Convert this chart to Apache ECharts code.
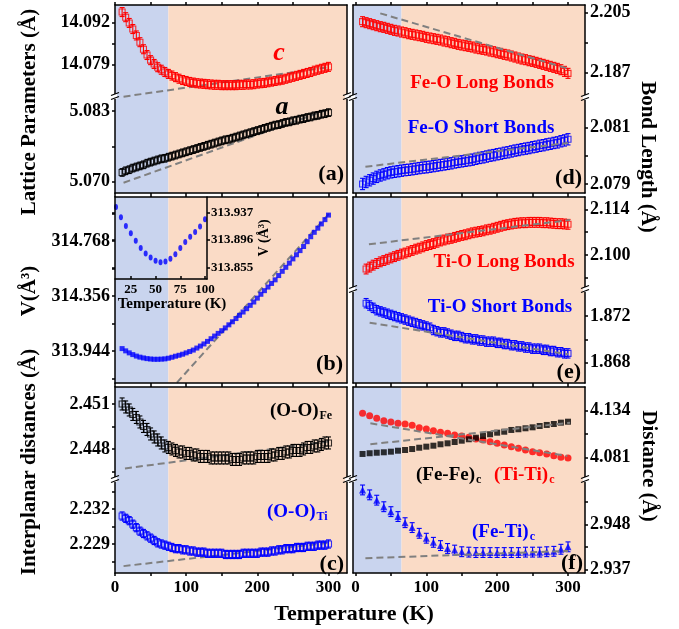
<!DOCTYPE html>
<html><head><meta charset="utf-8">
<script src="https://cdn.jsdelivr.net/npm/echarts@6/dist/echarts.min.js"></script>
<style>html,body{margin:0;padding:0;background:#fff}#c{width:679px;height:629px}</style>
</head><body><div id="c"></div><script>
// ---------------- DATA ----------------
const T5 = [10,15,20,25,30,35,40,45,50,55,60,65,70,75,80,85,90,95,100,105,110,115,120,125,130,135,140,145,150,155,160,165,170,175,180,185,190,195,200,205,210,215,220,225,230,235,240,245,250,255,260,265,270,275,280,285,290,295,300];
const TE = [15,20,25,30,35,40,45,50,55,60,65,70,75,80,85,90,95,100,105,110,115,120,125,130,135,140,145,150,155,160,165,170,175,180,185,190,195,200,205,210,215,220,225,230,235,240,245,250,255,260,265,270,275,280,285,290,295,300];
const T10 = [10,20,30,40,50,60,70,80,90,100,110,120,130,140,150,160,170,180,190,200,210,220,230,240,250,260,270,280,290,300];
const T_INSET = [10,15,20,25,30,35,40,45,50,55,60,65,70,75,80,85,90,95,100];

const C_LAT = [14.0953,14.0937,14.0919,14.0900,14.0880,14.0859,14.0837,14.0819,14.0803,14.0791,
 14.0781,14.0773,14.0766,14.0760,14.0755,14.0750,14.0745,14.0741,14.0738,14.0735,
 14.0733,14.0731,14.0730,14.0729,14.0728,14.0727,14.0726,14.0726,14.0725,14.0725,
 14.0725,14.0725,14.0725,14.0726,14.0726,14.0727,14.0727,14.0728,14.0730,14.0731,
 14.0732,14.0734,14.0736,14.0738,14.0740,14.0742,14.0745,14.0748,14.0751,14.0754,
 14.0757,14.0760,14.0763,14.0766,14.0770,14.0773,14.0776,14.0779,14.0782];
const A_LAT = [5.0717,5.0720,5.0722,5.0725,5.0727,5.0729,5.0731,5.0734,5.0736,5.0738,
 5.0740,5.0742,5.0743,5.0745,5.0747,5.0749,5.0751,5.0753,5.0755,5.0757,
 5.0759,5.0761,5.0763,5.0765,5.0767,5.0769,5.0771,5.0773,5.0775,5.0777,
 5.0778,5.0780,5.0782,5.0784,5.0786,5.0788,5.0790,5.0792,5.0794,5.0796,
 5.0798,5.0800,5.0802,5.0804,5.0805,5.0807,5.0809,5.0810,5.0812,5.0813,
 5.0815,5.0816,5.0818,5.0819,5.0821,5.0822,5.0824,5.0825,5.0827];
const VOL = [313.962,313.945,313.930,313.917,313.906,313.898,313.892,313.887,313.884,313.882,
 313.882,313.883,313.885,313.890,313.897,313.905,313.912,313.920,313.930,313.940,
 313.951,313.966,313.981,313.997,314.016,314.036,314.056,314.076,314.096,314.117,
 314.140,314.163,314.187,314.211,314.236,314.261,314.286,314.311,314.340,314.369,
 314.396,314.423,314.450,314.477,314.509,314.541,314.571,314.602,314.634,314.665,
 314.696,314.727,314.763,314.800,314.833,314.864,314.896,314.928,314.962];
const V_INSET = [313.945,313.930,313.917,313.906,313.895,313.884,313.876,313.870,313.865,313.863,313.864,313.868,313.875,313.884,313.893,313.901,313.908,313.916,313.927];
const OO_FE = [2.4510,2.4508,2.4506,2.4503,2.4501,2.4498,2.4495,2.4493,2.4490,2.4488,
 2.4486,2.4484,2.4482,2.4481,2.4480,2.4479,2.4478,2.4478,2.4477,2.4477,
 2.4476,2.4476,2.4475,2.4475,2.4475,2.4474,2.4474,2.4474,2.4474,2.4474,
 2.4474,2.4473,2.4473,2.4473,2.4474,2.4474,2.4474,2.4474,2.4475,2.4475,
 2.4475,2.4475,2.4476,2.4476,2.4477,2.4477,2.4478,2.4478,2.4479,2.4479,
 2.4479,2.4480,2.4481,2.4481,2.4482,2.4482,2.4483,2.4484,2.4484];
const OO_TI = [2.2314,2.2312,2.2310,2.2307,2.2304,2.2301,2.2299,2.2297,2.2295,2.2293,
 2.2291,2.2290,2.2289,2.2288,2.2287,2.2286,2.2286,2.2285,2.2285,2.2284,
 2.2284,2.2283,2.2283,2.2283,2.2282,2.2282,2.2282,2.2282,2.2282,2.2281,
 2.2281,2.2281,2.2281,2.2281,2.2282,2.2282,2.2282,2.2282,2.2282,2.2283,
 2.2283,2.2283,2.2284,2.2284,2.2285,2.2285,2.2286,2.2286,2.2286,2.2287,
 2.2287,2.2287,2.2288,2.2288,2.2288,2.2289,2.2289,2.2289,2.2290];
const FEO_LONG = [2.2023,2.2020,2.2017,2.2014,2.2011,2.2008,2.2006,2.2003,2.2000,2.1997,
 2.1995,2.1992,2.1990,2.1987,2.1985,2.1983,2.1981,2.1979,2.1976,2.1974,
 2.1972,2.1970,2.1968,2.1965,2.1963,2.1960,2.1958,2.1955,2.1953,2.1951,
 2.1949,2.1947,2.1944,2.1942,2.1940,2.1938,2.1935,2.1933,2.1930,2.1928,
 2.1925,2.1923,2.1920,2.1917,2.1914,2.1911,2.1909,2.1906,2.1904,2.1901,
 2.1898,2.1895,2.1892,2.1889,2.1886,2.1883,2.1879,2.1874,2.1868];
const FEO_SHORT = [2.07901,2.07908,2.07914,2.07920,2.07926,2.07931,2.07935,2.07939,2.07942,2.07944,
 2.07946,2.07948,2.07950,2.07951,2.07953,2.07955,2.07957,2.07959,2.07960,2.07962,
 2.07964,2.07966,2.07968,2.07970,2.07972,2.07974,2.07977,2.07979,2.07981,2.07983,
 2.07985,2.07987,2.07990,2.07993,2.07995,2.07998,2.08001,2.08003,2.08006,2.08008,
 2.08011,2.08013,2.08016,2.08019,2.08021,2.08024,2.08026,2.08028,2.08031,2.08033,
 2.08036,2.08038,2.08041,2.08043,2.08046,2.08048,2.08052,2.08055,2.08059];
const TIO_LONG = [2.0957,2.0963,2.0969,2.0974,2.0979,2.0983,2.0987,2.0991,2.0995,2.0999,
 2.1003,2.1006,2.1010,2.1014,2.1018,2.1021,2.1025,2.1029,2.1032,2.1035,
 2.1039,2.1043,2.1046,2.1049,2.1051,2.1054,2.1057,2.1060,2.1062,2.1065,
 2.1068,2.1070,2.1072,2.1074,2.1077,2.1079,2.1082,2.1085,2.1088,2.1091,
 2.1093,2.1095,2.1097,2.1098,2.1099,2.1099,2.1100,2.1100,2.1100,2.1100,
 2.1099,2.1099,2.1098,2.1097,2.1096,2.1096,2.1095,2.1094];
const TIO_SHORT = [1.8731,1.8729,1.8727,1.8725,1.8724,1.8723,1.8722,1.8721,1.8720,1.8719,
 1.8718,1.8717,1.8716,1.8715,1.8714,1.8713,1.8712,1.8711,1.8710,1.8708,
 1.8707,1.8706,1.8706,1.8705,1.8704,1.8703,1.8703,1.8702,1.8701,1.8701,
 1.8700,1.8700,1.8699,1.8699,1.8698,1.8698,1.8698,1.8697,1.8697,1.8696,
 1.8696,1.8695,1.8695,1.8694,1.8694,1.8693,1.8693,1.8692,1.8692,1.8692,
 1.8691,1.8691,1.8690,1.8690,1.8689,1.8689,1.8688,1.8688];
const TITI = [4.1311,4.1283,4.1254,4.1226,4.1212,4.1197,4.1189,4.1174,4.1147,4.1132,4.1113,4.1094,4.1083,4.1064,4.1052,4.1038,4.1018,4.1007,4.0988,4.0969,4.0950,4.0931,4.0912,4.0893,4.0874,4.0862,4.0848,4.0828,4.0810,4.0802];
const FEFE = [4.0848,4.0856,4.0862,4.0867,4.0874,4.0885,4.0893,4.0904,4.0919,4.0931,4.0942,4.0958,4.0969,4.0984,4.0999,4.1015,4.1033,4.1052,4.1072,4.1090,4.1101,4.1121,4.1129,4.1140,4.1151,4.1166,4.1178,4.1189,4.1204,4.1215];
const FETI = [2.9564,2.9552,2.9539,2.9523,2.9511,2.9499,2.9484,2.9472,2.9458,2.9446,2.9436,2.9428,2.9421,2.9417,2.9413,2.9412,2.9411,2.9411,2.9411,2.9411,2.9411,2.9411,2.9411,2.9412,2.9412,2.9412,2.9413,2.9414,2.9419,2.9425];

// error bar half-widths
const ERR = {c:0.0014, a:0.0007, ooFe:0.0004, ooTi:0.00035, feoL:0.0015, feoS:0.0002, tioL:0.0015, tioS:0.0004, feti:0.0012};

// dashed fit lines (end points)
const FIT_C = [[12,14.0689],[300,14.0781]];
const FIT_A = [[12,5.0698],[300,5.0833]];
const FIT_V = [[87,313.707],[302,314.980]];
const FIT_OOFE = [[14,2.4467],[300,2.4485]];
const FIT_OOTI = [[12,2.2271],[300,2.2291]];
const FIT_FEOL = [[35,2.2048],[299,2.1883]];
const FIT_FEOS = [[14,2.07962],[300,2.08046]];
const FIT_TIOL = [[19,2.10328],[303,2.11072]];
const FIT_TIOS = [[20,1.87143],[300,1.86872]];
const FIT_TITI = [[21,4.11968],[299,4.08248]];
const FIT_FEFE = [[21,4.09579],[303,4.12036]];
const FIT_FETI = [[14,2.9397],[300,2.9415]];

const X_TICKS = [0,50,100,150,200,250,300];
const X_LABELS = [0,100,200,300];
const SPLIT_LEFT = 75, SPLIT_RIGHT = 65;

// ---------------- STYLE / LAYOUT ----------------
const FONT = 'Liberation Serif';
const RED='#ff0000', BLUE='#0000ff', BLACK='#000000', GRAY='#808080';
const BG_BLUE='#C9D4EE', BG_ORANGE='#FADBC6';
const LCOL = {x:115, w:232, xmin:0, xmax:326, split:SPLIT_LEFT};
const RCOL = {x:353, w:232, xmin:-3.5, xmax:324, split:SPLIT_RIGHT};

const grids=[], xAxes=[], yAxes=[], series=[];
const lineSt = {color:'#000', width:1.5};

function xAxisDef(gi, C, pos, labels){
  return {gridIndex:gi, type:'value', min:C.xmin, max:C.xmax, position:pos, z:10,
    axisLine:{show:true,onZero:false,lineStyle:lineSt},
    axisTick:{show:true,inside:false,length:3,customValues:X_TICKS,lineStyle:lineSt},
    axisLabel:{show:labels,customValues:X_LABELS,margin:6,color:'#000',fontFamily:FONT,fontWeight:'bold',fontSize:17},
    splitLine:{show:false}};
}
function yAxisDef(gi, p, pos, main){
  return {gridIndex:gi, type:'value', min:p.y[0], max:p.y[1], position:pos, z:10,
    axisLine:{show:true,onZero:false,lineStyle:lineSt},
    axisTick:{show:main,inside:false,length:3,customValues:p.ticks,lineStyle:lineSt},
    axisLabel:{show:main,customValues:p.labels,formatter:v=>Number(v).toFixed(3),margin:5,color:'#000',fontFamily:FONT,fontWeight:'bold',fontSize:18},
    splitLine:{show:false}};
}
function bgSeries(xi, yi, C, p){
  return {type:'custom', xAxisIndex:xi, yAxisIndex:yi, z:0, silent:true, clip:true,
    data:[[C.xmin, C.split, 0],[C.split, C.xmax, 1]],
    renderItem:(params, api)=>{
      const cs = params.coordSys;
      const x0 = api.coord([api.value(0), p.y[0]])[0];
      const x1 = api.coord([api.value(1), p.y[0]])[0];
      return {type:'rect', shape:{x:x0, y:cs.y, width:x1-x0, height:cs.height}, style:{fill: api.value(2) ? BG_ORANGE : BG_BLUE}};
    }};
}
function breakSeries(xi, yi){
  return {type:'custom', xAxisIndex:xi, yAxisIndex:yi, z:20, silent:true, data:[[0,0]],
    renderItem:(params)=>{
      const cs = params.coordSys, y = cs.y, ch=[];
      [cs.x, cs.x+cs.width].forEach(x=>{
        ch.push({type:'rect', shape:{x:x-2, y:y-3, width:4, height:5}, style:{fill:'#fff'}});
        ch.push({type:'line', shape:{x1:x-4,y1:y-1.5,x2:x+4,y2:y-4.5}, style:{stroke:'#000',lineWidth:1.3}});
        ch.push({type:'line', shape:{x1:x-4,y1:y+2.5,x2:x+4,y2:y-0.5}, style:{stroke:'#000',lineWidth:1.3}});
      });
      return {type:'group', children:ch};
    }};
}
function panel(p){
  const C = p.col==='L' ? LCOL : RCOL;
  const gi = grids.length;
  grids.push({left:C.x, top:p.top, width:C.w, height:p.h});
  const xi = xAxes.length;
  if (p.xBottom) xAxes.push(xAxisDef(gi, C, 'bottom', !!p.xLabels));
  if (p.xTop) xAxes.push(xAxisDef(gi, C, 'top', false));
  const yi = yAxes.length;
  const side = p.col==='L' ? 'left' : 'right';
  yAxes.push(yAxisDef(gi, p, side, true));
  yAxes.push(yAxisDef(gi, p, side==='left'?'right':'left', false));
  series.push(bgSeries(xi, yi, C, p));
  if (p.brk) series.push(breakSeries(xi, yi));
  return {xi, yi};
}
function errSeries(ax, T, V, e, color, capW){
  return {type:'custom', xAxisIndex:ax.xi, yAxisIndex:ax.yi, z:2, silent:true, clip:true,
    data:T.map((t,i)=>[t, V[i], e]),
    renderItem:(params, api)=>{
      const x=api.value(0), y=api.value(1), er=api.value(2);
      const a=api.coord([x,y+er]), b=api.coord([x,y-er]); const w=capW/2;
      const st={stroke:color, lineWidth:1.1};
      return {type:'group', children:[
        {type:'line', shape:{x1:a[0],y1:a[1],x2:b[0],y2:b[1]}, style:st},
        {type:'line', shape:{x1:a[0]-w,y1:a[1],x2:a[0]+w,y2:a[1]}, style:st},
        {type:'line', shape:{x1:b[0]-w,y1:b[1],x2:b[0]+w,y2:b[1]}, style:st}]};
    }};
}
function markSeries(ax, T, V, symbol, size, color, hollow){
  return {type:'scatter', xAxisIndex:ax.xi, yAxisIndex:ax.yi, z:3, silent:true,
    data:T.map((t,i)=>[t, V[i]]), symbol, symbolSize:size,
    itemStyle: hollow ? {color:'rgba(0,0,0,0)', borderColor:color, borderWidth:1.1} : {color}};
}
function fitSeries(ax, pts, z){
  return {type:'line', xAxisIndex:ax.xi, yAxisIndex:ax.yi, z, silent:true, data:pts, symbol:'none',
    lineStyle:{color:GRAY, width:2, type:[7,4]}};
}

// ---------------- PANELS ----------------
const aUp = panel({col:'L', top:5, h:92, y:[14.0688,14.0975], labels:[14.079,14.092], ticks:[14.079,14.0855,14.092], xTop:true});
const aLo = panel({col:'L', top:97, h:96, y:[5.06792,5.08557], labels:[5.070,5.083], ticks:[5.070,5.0765,5.083], xBottom:true, brk:true});
const bP  = panel({col:'L', top:197, h:186, y:[313.7043,315.0976], labels:[313.944,314.356,314.768], ticks:[313.738,313.944,314.150,314.356,314.562,314.768,314.974], xTop:true, xBottom:true});
const cUp = panel({col:'L', top:387, h:93, y:[2.44593,2.45213], labels:[2.448,2.451], ticks:[2.4465,2.448,2.4495,2.451], xTop:true});
const cLo = panel({col:'L', top:480, h:93, y:[2.22651,2.23449], labels:[2.229,2.232], ticks:[2.2275,2.229,2.2305,2.232,2.2335], xBottom:true, xLabels:true, brk:true});
const dUp = panel({col:'R', top:5, h:93, y:[2.17941,2.2073], labels:[2.187,2.205], ticks:[2.187,2.196,2.205], xTop:true});
const dLo = panel({col:'R', top:98, h:95, y:[2.07869,2.08205], labels:[2.079,2.081], ticks:[2.079,2.080,2.081], xBottom:true, brk:true});
const eUp = panel({col:'R', top:197, h:93, y:[2.08928,2.11777], labels:[2.100,2.114], ticks:[2.093,2.100,2.107,2.114], xTop:true});
const eLo = panel({col:'R', top:290, h:93, y:[1.86626,1.87423], labels:[1.868,1.872], ticks:[1.868,1.870,1.872], xBottom:true, brk:true});
const fUp = panel({col:'R', top:387, h:93, y:[4.05518,4.16096], labels:[4.081,4.134], ticks:[4.081,4.1075,4.134], xTop:true});
const fLo = panel({col:'R', top:480, h:93, y:[2.93610,2.95883], labels:[2.937,2.948], ticks:[2.937,2.9425,2.948,2.9535], xBottom:true, xLabels:true, brk:true});

// (a)
series.push(fitSeries(aUp, FIT_C, 1), errSeries(aUp, T5, C_LAT, ERR.c, RED, 5), markSeries(aUp, T5, C_LAT, 'rect', 6, RED, true));
series.push(fitSeries(aLo, FIT_A, 1), errSeries(aLo, T5, A_LAT, ERR.a, BLACK, 5), markSeries(aLo, T5, A_LAT, 'rect', 6, BLACK, true));
// (b)
series.push(fitSeries(bP, FIT_V, 1), markSeries(bP, T5, VOL, 'rect', 5, BLUE, false));
// (c)
series.push(fitSeries(cUp, FIT_OOFE, 1), errSeries(cUp, T5, OO_FE, ERR.ooFe, BLACK, 5), markSeries(cUp, T5, OO_FE, 'rect', 6, BLACK, true));
series.push(fitSeries(cLo, FIT_OOTI, 1), errSeries(cLo, T5, OO_TI, ERR.ooTi, BLUE, 5), markSeries(cLo, T5, OO_TI, 'rect', 6, BLUE, true));
// (d)
series.push(errSeries(dUp, T5, FEO_LONG, ERR.feoL, RED, 5), markSeries(dUp, T5, FEO_LONG, 'rect', 6, RED, true), fitSeries(dUp, FIT_FEOL, 4));
series.push(errSeries(dLo, T5, FEO_SHORT, ERR.feoS, BLUE, 5), markSeries(dLo, T5, FEO_SHORT, 'rect', 6, BLUE, true), fitSeries(dLo, FIT_FEOS, 4));
// (e)
series.push(errSeries(eUp, TE, TIO_LONG, ERR.tioL, RED, 5), markSeries(eUp, TE, TIO_LONG, 'rect', 6, RED, true), fitSeries(eUp, FIT_TIOL, 4));
series.push(errSeries(eLo, TE, TIO_SHORT, ERR.tioS, BLUE, 5), markSeries(eLo, TE, TIO_SHORT, 'rect', 6, BLUE, true), fitSeries(eLo, FIT_TIOS, 4));
// (f)
series.push(markSeries(fUp, T10, TITI, 'circle', 7, RED, false), markSeries(fUp, T10, FEFE, 'rect', 6, BLACK, false), fitSeries(fUp, FIT_TITI, 4), fitSeries(fUp, FIT_FEFE, 4));
series.push(errSeries(fLo, T10, FETI, ERR.feti, BLUE, 5), markSeries(fLo, T10, FETI, 'triangle', 7, BLUE, false), fitSeries(fLo, FIT_FETI, 4));

// inset in (b)
(function(){
  const gi = grids.length;
  grids.push({left:115, top:197, width:92, height:82});
  const xi = xAxes.length;
  const tStyle = {color:'#000', fontFamily:FONT, fontWeight:'bold'};
  xAxes.push({gridIndex:gi, type:'value', min:9, max:102, position:'bottom', z:11,
    axisLine:{show:true,onZero:false,lineStyle:lineSt},
    axisTick:{show:true,inside:true,length:3,customValues:[25,50,75,100],lineStyle:lineSt},
    axisLabel:Object.assign({customValues:[25,50,75,100],margin:4,fontSize:13}, tStyle),
    splitLine:{show:false}});
  const yi = yAxes.length;
  const yt = [313.855,313.896,313.937];
  yAxes.push({gridIndex:gi, type:'value', min:313.838, max:313.960, position:'right', z:11,
    axisLine:{show:true,onZero:false,lineStyle:lineSt},
    axisTick:{show:true,inside:false,length:3,customValues:yt,lineStyle:lineSt},
    axisLabel:Object.assign({customValues:yt,formatter:v=>Number(v).toFixed(3),margin:4,fontSize:13}, tStyle),
    name:'V (Å³)', nameLocation:'middle', nameRotate:90, nameGap:46, nameTextStyle:Object.assign({fontSize:14}, tStyle),
    splitLine:{show:false}});
  yAxes.push({gridIndex:gi, type:'value', min:313.838, max:313.960, position:'left', z:11,
    axisLine:{show:false,onZero:false},
    axisTick:{show:true,inside:false,length:3,customValues:yt,lineStyle:lineSt},
    axisLabel:{show:false}, splitLine:{show:false}});
  series.push({type:'scatter', xAxisIndex:xi, yAxisIndex:yi, z:5, silent:true,
    data:T_INSET.map((t,i)=>[t, V_INSET[i]]), symbol:'circle', symbolSize:[4,6], itemStyle:{color:BLUE}});
})();

// ---------------- TEXT ----------------
const mctx = document.createElement('canvas').getContext('2d');
function tw(text, size){ mctx.font = 'bold '+size+'px "'+FONT+'"'; return mctx.measureText(text).width; }
function txt(x, y, text, o){
  o = o || {};
  return {type:'text', x, y, rotation:o.rot||0, z:100, silent:true,
    style:{text, fill:o.color||'#000', fontFamily:FONT, fontWeight:'bold', fontStyle:o.italic?'italic':'normal',
      fontSize:o.size||19, align:o.align||'center', verticalAlign:'middle'}};
}
function subLabel(x, y, main, sub, color){
  const w = tw(main, 19);
  return [txt(x, y, main, {color, align:'left'}), txt(x+w+1, y+5, sub, {color, align:'left', size:12})];
}
const gfx = [
  txt(30, 112, 'Lattice Parameters (Å)', {rot:Math.PI/2, size:21}),
  txt(30, 291, 'V(Å³)', {rot:Math.PI/2, size:21}),
  txt(30, 462, 'Interplanar distances (Å)', {rot:Math.PI/2, size:21}),
  txt(647, 157, 'Bond Length (Å)', {rot:-Math.PI/2, size:21}),
  txt(648, 466, 'Distance (Å)', {rot:-Math.PI/2, size:21}),
  txt(354, 614, 'Temperature (K)', {size:22}),
  txt(172, 304, 'Temperature (K)', {size:15}),
  txt(344, 174, '(a)', {align:'right', size:22}),
  txt(343, 364, '(b)', {align:'right', size:22}),
  txt(344, 564, '(c)', {align:'right', size:22}),
  txt(582, 178, '(d)', {align:'right', size:22}),
  txt(581, 372, '(e)', {align:'right', size:22}),
  txt(583, 563, '(f)', {align:'right', size:22}),
  txt(279, 53, 'c', {italic:true, size:26, color:RED}),
  txt(282, 107, 'a', {italic:true, size:26, color:BLACK}),
  txt(482, 83, 'Fe-O Long Bonds', {color:RED}),
  txt(481, 128, 'Fe-O Short Bonds', {color:BLUE}),
  txt(504, 262, 'Ti-O Long Bonds', {color:RED}),
  txt(500, 307, 'Ti-O Short Bonds', {color:BLUE})
].concat(subLabel(270, 411, '(O-O)', 'Fe', BLACK), subLabel(267, 512, '(O-O)', 'Ti', BLUE),
  subLabel(416, 475, '(Fe-Fe)', 'c', BLACK), subLabel(494, 475, '(Ti-Ti)', 'c', RED), subLabel(472, 532, '(Fe-Ti)', 'c', BLUE));

const chart = echarts.init(document.getElementById('c'), null, {renderer:'canvas'});
chart.setOption({animation:false, backgroundColor:'#fff', grid:grids, xAxis:xAxes, yAxis:yAxes, series, graphic:{elements:gfx}});
</script></body></html>
